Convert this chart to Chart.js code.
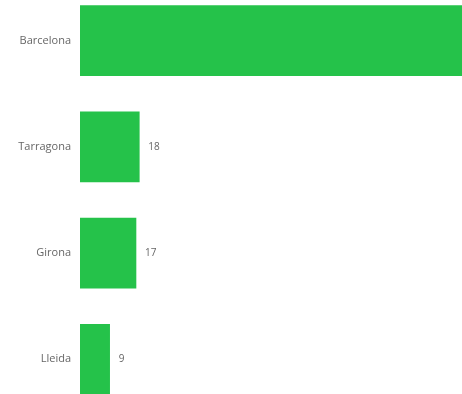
<!DOCTYPE html>
<html>
<head>
<meta charset="utf-8">
<script src="https://cdn.jsdelivr.net/npm/chart.js@4"></script>
<style>
html,body{margin:0;padding:0;background:#fff;overflow:hidden;width:462px;height:394px;}
#wrap{position:absolute;left:0;top:-28px;width:462px;height:456px;}
</style>
</head>
<body>
<div id="wrap"><canvas id="c"></canvas></div>
<script>
const categories = ["Barcelona", "Tarragona", "Girona", "Lleida"];
const values = [150, 18, 17, 9];
const xMax = 116;

const valueLabels = {
  id: 'valueLabels',
  afterDatasetsDraw(chart) {
    const ctx = chart.ctx;
    const meta = chart.getDatasetMeta(0);
    ctx.save();
    ctx.font = '10px "Open Sans", sans-serif';
    ctx.fillStyle = '#666666';
    ctx.textAlign = 'left';
    ctx.textBaseline = 'middle';
    meta.data.forEach((bar, i) => {
      ctx.fillText(String(values[i]), bar.x + 9, bar.y);
    });
    ctx.restore();
  }
};

new Chart(document.getElementById('c'), {
  type: 'bar',
  data: {
    labels: categories,
    datasets: [{
      data: values,
      backgroundColor: '#25C24A',
      borderWidth: 0,
      barThickness: 70
    }]
  },
  options: {
    indexAxis: 'y',
    responsive: true,
    maintainAspectRatio: false,
    animation: false,
    layout: { padding: 0 },
    plugins: { legend: { display: false }, tooltip: { enabled: false } },
    scales: {
      x: { display: false, min: 0, max: xMax },
      y: {
        grid: { display: false, drawTicks: false },
        border: { display: false },
        afterFit(s) { s.width = 80; },
        ticks: {
          padding: 9,
          color: '#666666',
          font: { family: '"Open Sans", sans-serif', size: 11 }
        }
      }
    }
  },
  plugins: [valueLabels]
});
</script>
</body>
</html>
